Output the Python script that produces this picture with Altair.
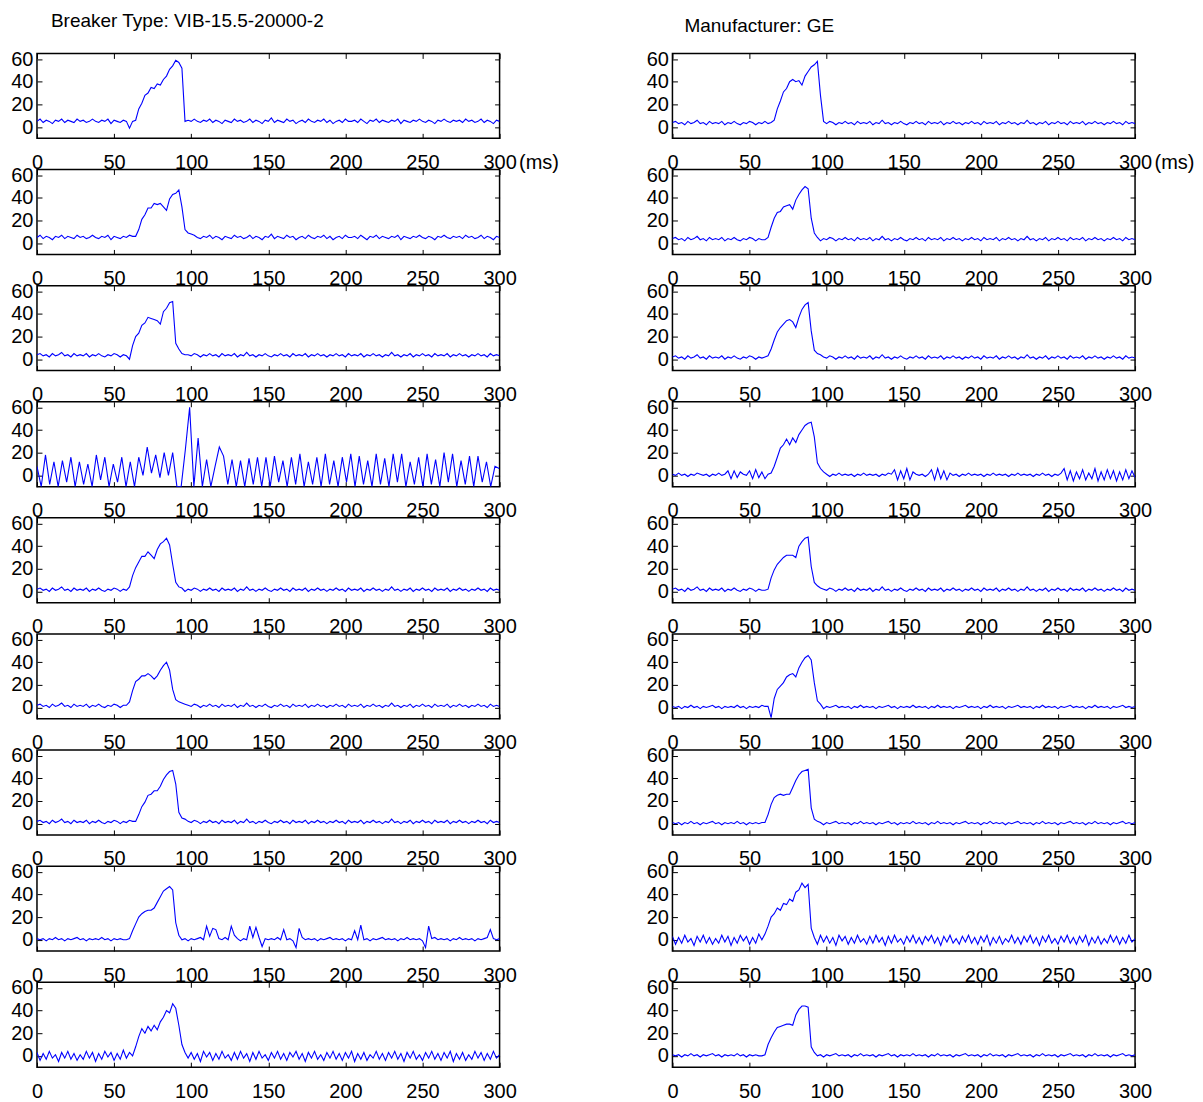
import altair as alt
import pandas as pd

# ---------------- axes / text ----------------
X_TICKS = [0, 50, 100, 150, 200, 250, 300]
Y_TICKS = [0, 20, 40, 60]
X_DOMAIN = [0, 300]
Y_DOMAIN = [-10, 65]
STEP = 2  # ms between samples

LEFT_TITLE = "Breaker Type: VIB-15.5-20000-2"
RIGHT_TITLE = "Manufacturer: GE"
UNIT = "(ms)"

# ---------------- baseline traces (one value every 2 ms, 0..300 ms) ----------------
B6 = [
    5, 7, 4, 6, 5, 3, 6, 5, 7, 4,
    6, 5, 4, 7, 5, 6, 4, 5, 7, 5,
    4, 6, 5, 7, 3, 6, 5, 4, 6, 5,
    7, 5, 4, 6, 5, 3, 6, 5, 7, 4,
    5, 6, 4, 7, 5, 4, 6, 5, 3, 6,
    5, 7, 5, 4, 6, 5, 7, 4, 6, 5,
    3, 6, 5, 4, 7, 5, 6, 4, 5, 7,
    4, 6, 5, 3, 6, 5, 8, 4, 6, 5,
    4, 7, 5, 6, 3, 5, 6, 4, 7, 5,
    4, 6, 5, 7, 4, 6, 3, 5, 6, 4,
    7, 5, 5, 6, 4, 7, 5, 3, 6, 5,
    7, 4, 6, 5, 4, 6, 5, 7, 3, 6,
    5, 4, 6, 5, 7, 5, 4, 6, 5, 3,
    6, 5, 7, 5, 4, 6, 5, 6, 4, 7,
    5, 6, 4, 5, 7, 4, 6, 5, 3, 6,
    5]

B4 = [
    4, 5, 3, 4, 2, 5, 3, 4, 6, 3,
    4, 2, 5, 3, 4, 3, 5, 2, 4, 3,
    5, 3, 2, 4, 3, 5, 4, 2, 4, 3,
    5, 3, 4, 2, 4, 3, 6, 3, 4, 2,
    4, 3, 5, 2, 4, 3, 5, 3, 2, 4,
    3, 5, 4, 2, 4, 3, 5, 3, 4, 2,
    5, 3, 4, 3, 5, 2, 4, 3, 6, 3,
    4, 2, 4, 3, 5, 3, 2, 4, 3, 5,
    3, 4, 2, 5, 3, 4, 3, 5, 2, 4,
    3, 5, 3, 4, 2, 4, 3, 5, 3, 4,
    2, 5, 3, 4, 3, 5, 2, 4, 3, 5,
    3, 4, 2, 4, 3, 6, 3, 4, 2, 4,
    3, 5, 2, 4, 3, 5, 3, 4, 2, 5,
    3, 4, 3, 5, 2, 4, 3, 5, 3, 4,
    2, 4, 3, 5, 3, 4, 2, 5, 3, 4,
    3]

B2 = [
    2, 3, 1, 2, 0, 3, 1, 2, 4, 1,
    2, 0, 3, 1, 2, 1, 3, 0, 2, 1,
    3, 1, 0, 2, 1, 3, 2, 0, 2, 1,
    3, 1, 2, 0, 2, 1, 4, 1, 2, 0,
    2, 1, 3, 0, 2, 1, 3, 1, 0, 2,
    1, 3, 2, 0, 2, 1, 3, 1, 2, 0,
    3, 1, 2, 1, 3, 0, 2, 1, 4, 1,
    2, 0, 2, 1, 3, 1, 0, 2, 1, 3,
    1, 2, 0, 3, 1, 2, 1, 3, 0, 2,
    1, 3, 1, 2, 0, 2, 1, 3, 1, 2,
    0, 3, 1, 2, 1, 3, 0, 2, 1, 3,
    1, 2, 0, 2, 1, 4, 1, 2, 0, 2,
    1, 3, 0, 2, 1, 3, 1, 2, 0, 3,
    1, 2, 1, 3, 0, 2, 1, 3, 1, 2,
    0, 2, 1, 3, 1, 2, 0, 3, 1, 2,
    1]

B1 = [
    1, 0, 1, -1, 1, 0, 2, 0, 1, -1,
    1, 0, 1, 2, 0, 1, -1, 1, 0, 1,
    0, 2, 0, 1, -1, 1, 0, 1, 0, 2,
    0, 1, -1, 1, 0, 1, 2, 0, 1, 0,
    1, -1, 1, 0, 2, 0, 1, 0, 1, -1,
    1, 0, 1, 2, 0, 1, 0, 1, -1, 1,
    0, 2, 0, 1, 0, 1, -1, 1, 0, 1,
    2, 0, 1, -1, 1, 0, 1, 0, 2, 0,
    1, 0, 1, -1, 1, 0, 2, 0, 1, 0,
    1, -1, 1, 0, 1, 2, 0, 1, 0, 1,
    -1, 1, 0, 2, 0, 1, 0, 1, -1, 1,
    0, 1, 2, 0, 1, 0, 1, -1, 1, 0,
    2, 0, 1, 0, 1, -1, 1, 0, 1, 2,
    0, 1, 0, 1, -1, 1, 0, 2, 0, 1,
    0, 1, -1, 1, 0, 1, 2, 0, 1, 0,
    1]

B8 = [
    1, 0, 1, -1, 1, 0, 2, 0, 1, -1,
    1, 0, 1, 2, 0, 1, -1, 1, 0, 1,
    0, 2, 0, 1, -1, 1, 0, 1, 0, 2,
    0, 1, -1, 1, 0, 1, 2, 0, 1, 0,
    1, -1, 1, 0, 2, 0, 1, 0, 1, -1,
    1, 0, 1, 2, 0, 12, 3, 10, 9, 1,
    0, 2, 0, 12, 4, 1, -1, 1, 0, 12,
    2, 11, 2, -6, 1, 0, 1, 0, 2, 0,
    9, 0, 1, -1, -7, 10, 2, 0, 1, 0,
    1, -1, 1, 0, 1, 2, 0, 1, 0, 1,
    -1, 1, 0, 8, 0, 13, 0, 1, -1, 1,
    0, 1, 2, 0, 1, 0, 1, -1, 1, 0,
    2, 0, 1, 0, 1, -1, -7, 12, 1, 2,
    0, 1, 0, 1, -1, 1, 0, 2, 0, 1,
    0, 1, -1, 1, 0, 1, 2, 9, 1, 0,
    1]

BR4 = [
    1, 0, 2, 0, 1, -1, 1, 0, 2, 1,
    0, 1, -1, 1, 0, 2, 0, 1, 4, -3,
    4, -2, 3, 1, 0, 4, -3, 5, -2, 3,
    -3, 4, 0, 1, -1, 1, 0, 1, 2, 0,
    1, 0, 2, 0, 1, -1, 1, 0, 2, 0,
    1, -1, 1, 0, 2, 0, 1, 0, 1, -1,
    1, 0, 2, 0, 1, 0, 1, -1, 1, 0,
    2, 1, 5, -4, 4, -3, 6, -4, 3, 1,
    0, 1, -1, 1, 5, -4, 6, -3, 4, -4,
    2, 0, 1, -1, 1, 0, 2, 0, 1, 0,
    1, -1, 1, 0, 2, 0, 1, 0, 1, -1,
    1, 0, 2, 0, 1, 0, 1, -1, 1, 0,
    2, 0, 1, -1, 1, 0, 2, 6, -4, 4,
    -5, 3, -3, 5, -4, 2, -3, 6, -5, 3,
    -4, 5, -3, 4, -5, 3, -4, 5, -3, 4,
    -2]

BH = [
    3, -4, 2, -3, 4, -2, 1, -5, 3, -2,
    4, -3, 2, -4, 1, -3, 4, -2, 3, -5,
    2, -3, 4, -1, 3, -4, 2, -3, 5, -2,
    3, -4, 1, -3, 4, -2, 3, -5, 2, -3,
    4, -2, 3, -4, 2, -3, 1, -4, 4, -2,
    3, -3, 2, -5, 4, -1, 3, -4, 2, -3,
    4, -2, 1, -4, 3, -3, 4, -2, 2, -5,
    3, -3, 4, -2, 1, -4, 3, -2, 4, -3,
    2, -4, 3, -1, 4, -3, 2, -5, 3, -2,
    4, -3, 1, -4, 3, -2, 4, -3, 2, -4,
    3, -2, 4, -5, 2, -3, 3, -4, 1, -2,
    4, -3, 2, -4, 3, -2, 4, -3, 2, -5,
    3, -2, 4, -3, 1, -4, 3, -2, 4, -3,
    2, -4, 3, -2, 4, -5, 2, -3, 3, -4,
    1, -3, 4, -2, 3, -4, 2, -3, 4, -2,
    1]

# ---------------- pulses (start time in ms, then one value every 2 ms) ----------------
L1_START, L1_PULSE = 60, [-1, 5, 6, 16, 21, 28, 30, 35, 34, 38, 37, 42, 45, 51, 54, 59, 57, 52, 5]
L2_START, L2_PULSE = 62, [6, 6, 12, 21, 25, 31, 31, 35, 34, 35, 32, 29, 39, 43, 44, 47, 32, 12, 9, 8]
L3_START, L3_PULSE = 58, [3, 0, 12, 20, 23, 30, 32, 37, 36, 35, 34, 31, 42, 45, 50, 51, 14, 9, 5, 4]
L5_START, L5_PULSE = 58, [1, 4, 14, 21, 26, 31, 31, 35, 32, 29, 37, 42, 44, 47, 41, 24, 8, 4, 3]
L6_START, L6_PULSE = 58, [2, 5, 15, 23, 25, 28, 28, 30, 28, 25, 28, 33, 37, 40, 33, 16, 7, 5, 4, 3]
L7_START, L7_PULSE = 62, [2, 2, 8, 15, 19, 25, 26, 29, 29, 33, 39, 43, 46, 47, 35, 10, 5, 4]
L8_START, L8_PULSE = 58, [0, 1, 8, 14, 20, 23, 25, 26, 26, 28, 33, 38, 43, 45, 47, 44, 15, 4]
L9_START, L9_PULSE = 62, [0, 8, 17, 24, 20, 26, 22, 27, 23, 30, 34, 40, 38, 46, 42, 27, 10, 3]

R1_START, R1_PULSE = 64, [4, 6, 16, 23, 31, 34, 40, 42, 40, 41, 37, 45, 49, 53, 55, 58, 28, 5]
R2_START, R2_PULSE = 60, [3, 5, 14, 22, 27, 28, 32, 33, 34, 30, 38, 43, 47, 50, 48, 22, 9, 5]
R3_START, R3_PULSE = 60, [2, 3, 9, 17, 24, 28, 31, 34, 35, 33, 28, 37, 44, 48, 50, 25, 8, 5, 4]
R4_START, R4_PULSE = 62, [1, 2, 8, 16, 24, 27, 32, 27, 33, 29, 36, 40, 44, 46, 47, 34, 11, 6, 3]
R5_START, R5_PULSE = 60, [1, 2, 12, 19, 24, 27, 30, 32, 32, 32, 30, 40, 44, 47, 48, 22, 8, 5, 3]
R6_START, R6_PULSE = 60, [1, 1, -9, 8, 16, 19, 22, 27, 29, 30, 27, 35, 40, 44, 46, 42, 22, 6, 3]
R7_START, R7_PULSE = 58, [1, 1, 8, 17, 23, 25, 26, 25, 26, 26, 32, 38, 43, 46, 47, 48, 14, 4, 2]
R8_START, R8_PULSE = 58, [0, 5, 12, 20, 23, 28, 26, 32, 31, 36, 34, 42, 44, 50, 46, 49, 10, 2]
R9_START, R9_PULSE = 58, [0, 1, 10, 16, 21, 25, 26, 27, 28, 28, 27, 36, 41, 44, 44, 43, 8, 3]

# left panel 4: oscillating trace, one value every 2.75 ms
L4_STEP = 2.75
L4_VALUES = [
    8, -10, 18, -8, 12, -10, 13, -6, 16, -10,
    12, -8, 10, -10, 18, -4, 16, -10, 10, -6,
    16, -10, 12, -10, 16, 0, 25, 2, 18, -2,
    20, 0, 20, -10, -10, 23, 60, -10, 33, -10,
    14, -10, 8, 25, 17, -8, 14, -10, 13, -10,
    15, -8, 16, -10, 16, -10, 17, -6, 13, -10,
    16, -8, 19, -10, 12, -8, 16, -10, 19, -8,
    13, -10, 16, -6, 19, -10, 17, -8, 13, -10,
    19, -8, 15, -10, 19, -6, 19, -10, 12, -8,
    16, -10, 19, -8, 14, -10, 20, -6, 19, -10,
    13, -8, 17, -10, 17, -6, 12, -10, 8, 6]

# ---------------- style ----------------
W, H = 463, 85
FONT = "Liberation Sans, Arial"
BLUE = "#0000ff"
FS = 20
TFS = 19


def pulse_frame(base, start, pulse):
    vals = list(base)
    i0 = start // STEP
    for k, p in enumerate(pulse):
        vals[i0 + k] = p
    return pd.DataFrame({"t": [i * STEP for i in range(len(vals))], "v": vals})


def step_frame(values, step):
    return pd.DataFrame({"t": [i * step for i in range(len(values))], "v": values})


def panel(df, title=None, unit=False, title_dx=14, title_offset=3):
    xs = alt.Scale(domain=X_DOMAIN, nice=False, zero=False)
    ys = alt.Scale(domain=Y_DOMAIN, nice=False, zero=False)
    xargs = dict(values=X_TICKS, ticks=False, domain=False, grid=False,
                 labelPadding=14, labelFlush=False, labelOverlap=False)
    if unit:
        xargs.update(title=UNIT, titleX=W + 19, titleY=30, titleAlign="left",
                     titleBaseline="alphabetic", titleFontWeight="normal",
                     titleFontSize=FS, titleFont=FONT, titleColor="black")
    else:
        xargs.update(title=None)
    base = alt.Chart(df)
    line = base.mark_line(color=BLUE, strokeWidth=1.1, clip=True).encode(
        x=alt.X("t:Q", scale=xs, axis=alt.Axis(**xargs)),
        y=alt.Y("v:Q", scale=ys, axis=alt.Axis(values=Y_TICKS, ticks=False, domain=False,
                                               grid=False, labelPadding=4, title=None)),
    )
    tick_cfg = dict(labels=False, domain=False, grid=False, ticks=True, tickSize=5,
                    tickColor="black", tickWidth=1, title=None)
    t1 = base.mark_line(opacity=0).encode(
        x=alt.X("t:Q", scale=xs, axis=alt.Axis(orient="top", offset=-H, values=X_TICKS, **tick_cfg)),
        y=alt.Y("v:Q", scale=ys, axis=alt.Axis(orient="right", offset=-W, values=Y_TICKS, **tick_cfg)),
    )
    t2 = base.mark_line(opacity=0).encode(
        x=alt.X("t:Q", scale=xs, axis=alt.Axis(orient="bottom", offset=-H, values=X_TICKS, **tick_cfg)),
        y=alt.Y("v:Q", scale=ys, axis=alt.Axis(orient="left", offset=-W, values=Y_TICKS, **tick_cfg)),
    )
    ch = alt.layer(line, t1, t2).resolve_axis(x="independent", y="independent").properties(width=W, height=H)
    if title:
        ch = ch.properties(title=alt.TitleParams(
            text=title, anchor="start", frame="group", dx=title_dx, offset=title_offset,
            baseline="alphabetic", fontSize=TFS, fontWeight="normal", font=FONT, color="black"))
    return ch


left = [
    pulse_frame(B6, L1_START, L1_PULSE),
    pulse_frame(B6, L2_START, L2_PULSE),
    pulse_frame(B4, L3_START, L3_PULSE),
    step_frame(L4_VALUES, L4_STEP),
    pulse_frame(B2, L5_START, L5_PULSE),
    pulse_frame(B2, L6_START, L6_PULSE),
    pulse_frame(B2, L7_START, L7_PULSE),
    pulse_frame(B8, L8_START, L8_PULSE),
    pulse_frame(BH, L9_START, L9_PULSE),
]
right = [
    pulse_frame(B4, R1_START, R1_PULSE),
    pulse_frame(B4, R2_START, R2_PULSE),
    pulse_frame(B2, R3_START, R3_PULSE),
    pulse_frame(BR4, R4_START, R4_PULSE),
    pulse_frame(B2, R5_START, R5_PULSE),
    pulse_frame(B1, R6_START, R6_PULSE),
    pulse_frame(B1, R7_START, R7_PULSE),
    pulse_frame(BH, R8_START, R8_PULSE),
    pulse_frame(B1, R9_START, R9_PULSE),
]

panels = []
for r in range(9):
    if r == 0:
        panels.append(panel(left[r], title=LEFT_TITLE, unit=True, title_dx=14, title_offset=3))
        panels.append(panel(right[r], title=RIGHT_TITLE, unit=True, title_dx=12, title_offset=-2))
    else:
        panels.append(panel(left[r]))
        panels.append(panel(right[r]))

chart = alt.concat(
    *panels, columns=2, spacing={"row": 31.2, "column": 173}, bounds="flush"
).properties(
    padding={"left": 2, "top": 2, "right": 0, "bottom": 0}
).configure_view(
    stroke="black", strokeWidth=1.5
).configure_axis(
    labelFont=FONT, labelFontSize=FS, labelColor="black"
)

chart.save("out.html", embed_options={"renderer": "svg", "actions": False})
